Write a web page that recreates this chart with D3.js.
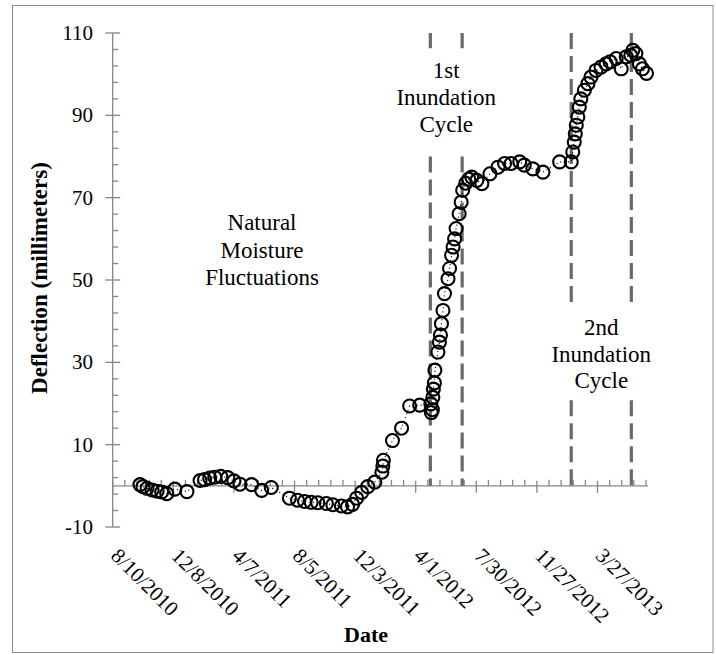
<!DOCTYPE html>
<html><head><meta charset="utf-8">
<script src="https://cdn.jsdelivr.net/npm/d3@7"></script>
<style>
body{margin:0;background:#fff}
svg{display:block}
text{font-family:"Liberation Serif","Times New Roman",serif;fill:#000}
</style>
</head><body>
<svg id="chart" width="716" height="655"></svg>
<script>
// ---- data ----
const dates = [
 "2010-10-03","2010-10-09","2010-10-17","2010-10-27","2010-11-06","2010-11-15","2010-11-25","2010-12-11","2011-01-04",
 "2011-01-30","2011-02-08","2011-02-18","2011-02-28","2011-03-12","2011-03-26","2011-04-07","2011-04-19","2011-05-12","2011-06-01","2011-06-20",
 "2011-07-26","2011-08-11","2011-08-25","2011-09-07","2011-09-20","2011-10-07","2011-10-20","2011-11-06","2011-11-18","2011-11-28",
 "2011-12-06","2011-12-16","2011-12-28","2012-01-11","2012-01-25","2012-01-27","2012-01-28","2012-02-15","2012-03-04","2012-03-20",
 "2012-04-09","2012-05-01","2012-05-02","2012-05-04","2012-05-05","2012-05-06","2012-05-08","2012-05-09","2012-05-15","2012-05-18",
 "2012-05-20","2012-05-22","2012-05-25","2012-05-28","2012-06-04","2012-06-07","2012-06-11","2012-06-14","2012-06-17","2012-06-20",
 "2012-06-26","2012-06-30","2012-07-03","2012-07-09","2012-07-15","2012-07-21","2012-07-31","2012-08-10","2012-08-26","2012-09-11",
 "2012-09-24","2012-10-07","2012-10-24","2012-11-02","2012-11-19","2012-12-09","2013-01-11","2013-02-03","2013-02-06","2013-02-09",
 "2013-02-11","2013-02-13","2013-02-16","2013-02-19","2013-02-22","2013-03-01","2013-03-08","2013-03-14","2013-03-24","2013-04-03",
 "2013-04-13","2013-04-21","2013-05-03","2013-05-13","2013-05-23","2013-06-01","2013-06-05","2013-06-11","2013-06-18","2013-06-24",
 "2013-07-02"
];
const deflection = [
 0.3,-0.2,-0.6,-1.0,-1.3,-1.5,-1.9,-0.8,-1.4,
 1.3,1.5,1.9,2.1,2.3,2.0,1.2,0.4,0.3,-1.1,-0.4,
 -3.0,-3.5,-3.8,-4.0,-4.1,-4.3,-4.6,-4.9,-5.1,-4.5,
 -3.0,-1.6,-0.2,0.9,3.3,4.8,6.2,11.0,14.0,19.4,
 19.6,19.9,17.8,18.5,21.5,23.5,25.0,28.1,32.5,34.9,
 36.6,39.4,42.6,46.7,50.3,52.8,56.0,58.0,60.0,62.5,
 66.1,68.9,71.8,73.5,74.5,75.0,74.2,73.4,75.8,77.4,
 78.3,78.3,78.7,77.9,77.0,76.2,78.7,78.7,81.1,83.5,
 85.5,87.6,89.6,92.0,94.0,96.1,97.7,99.3,100.9,101.7,
 102.5,103.0,103.8,101.3,104.2,104.6,105.8,105.0,102.5,101.3,
 100.2
];
const xTickLabels = ["8/10/2010","12/8/2010","4/7/2011","8/5/2011","12/3/2011","4/1/2012","7/30/2012","11/27/2012","3/27/2013"];
const yTickValues = [-10,10,30,50,70,90,110];
const xDomain = ["2010-08-10","2013-07-05"];
const yDomain = [-10,110];
const cycleDates = ["2012-04-30","2012-07-02","2013-02-03","2013-06-02"];
const cycleSegments = [
 [[110,106.3],[80,0]],
 [[110,106.3],[80,0]],
 [[110,44.5],[20.8,0]],
 [[110,44.5],[20.8,0]]
];
const naturalText = ["Natural","Moisture","Fluctuations"];
const firstText = ["1st","Inundation","Cycle"];
const secondText = ["2nd","Inundation","Cycle"];
const xTitle = "Date";
const yTitle = "Deflection (millimeters)";

// ---- drawing ----
const svg = d3.select("#chart");
const parse = d3.utcParse("%Y-%m-%d");
const parseTick = d3.utcParse("%m/%d/%Y");
const L = 112.7, R = 648, T = 33, B = 527;

const x = d3.scaleUtc().domain(xDomain.map(parse)).range([L, R]);
const y = d3.scaleLinear().domain(yDomain).range([B, T]);

const pts = dates.map((d,i)=>({d:parse(d), v:deflection[i]}));

// chart border
svg.append("rect").attr("x",12.5).attr("y",5.5).attr("width",700.5).attr("height",647)
  .attr("fill","none").attr("stroke","#8c8c8c").attr("stroke-width",1);

const axisColor = "#868686";
const y0 = y(0);

// y axis
svg.append("line").attr("x1",L).attr("x2",L).attr("y1",T).attr("y2",B)
  .attr("stroke",axisColor).attr("stroke-width",1.3);
const yMinor = d3.range(yDomain[0], yDomain[1]+0.001, 4).filter(v=>!yTickValues.includes(v));
svg.append("g").selectAll("line").data(yMinor).join("line")
  .attr("x1",L).attr("x2",L+5.5).attr("y1",d=>y(d)).attr("y2",d=>y(d))
  .attr("stroke",axisColor).attr("stroke-width",1.3);
svg.append("g").selectAll("line").data(yTickValues).join("line")
  .attr("x1",L-7.5).attr("x2",L+7.5).attr("y1",d=>y(d)).attr("y2",d=>y(d))
  .attr("stroke",axisColor).attr("stroke-width",1.3);
svg.append("g").selectAll("text").data(yTickValues).join("text")
  .attr("x",93).attr("y",d=>y(d)).attr("dy","0.34em")
  .attr("text-anchor","end").attr("font-size",21).text(d=>String(d));

// x axis (crosses at 0)
svg.append("line").attr("x1",L).attr("x2",R).attr("y1",y0).attr("y2",y0)
  .attr("stroke",axisColor).attr("stroke-width",1.3);
const start = parse(xDomain[0]), end = parse(xDomain[1]);
const minorDates = [];
for (let k=0;;k+=24){ const dd = d3.utcDay.offset(start,k); if (dd> end) break; if (k%120!==0) minorDates.push(dd); }
svg.append("g").selectAll("line").data(minorDates).join("line")
  .attr("x1",d=>x(d)).attr("x2",d=>x(d)).attr("y1",y0).attr("y2",y0-6)
  .attr("stroke",axisColor).attr("stroke-width",1.3);
const majorDates = xTickLabels.map(parseTick);
svg.append("g").selectAll("line").data(majorDates).join("line")
  .attr("x1",d=>x(d)).attr("x2",d=>x(d)).attr("y1",y0-5).attr("y2",y0+7)
  .attr("stroke",axisColor).attr("stroke-width",1.3);
svg.append("g").selectAll("text").data(xTickLabels).join("text")
  .attr("transform",d=>`translate(${x(parseTick(d))-3},${B+30}) rotate(45)`)
  .attr("text-anchor","start").attr("font-size",21).text(d=>d);

// cycle boundary dashed lines
cycleDates.forEach((cd,i)=>{
  cycleSegments[i].forEach(seg=>{
    svg.append("line").attr("x1",x(parse(cd))).attr("x2",x(parse(cd)))
      .attr("y1",y(seg[0])).attr("y2",y(seg[1]))
      .attr("stroke","#6a6a6a").attr("stroke-width",3.2).attr("stroke-dasharray","16,7");
  });
});

// dotted connecting line
svg.append("path").datum(pts)
  .attr("d", d3.line().x(p=>x(p.d)).y(p=>y(p.v)))
  .attr("fill","none").attr("stroke","#000").attr("stroke-width",1.2).attr("stroke-dasharray","1,3");

// markers
svg.append("g").selectAll("circle").data(pts).join("circle")
  .attr("cx",p=>x(p.d)).attr("cy",p=>y(p.v)).attr("r",6.5)
  .attr("fill","none").attr("stroke","#000").attr("stroke-width",2.1);

// annotations
function block(lines, cx, baseY, gap){
  svg.append("g").selectAll("text").data(lines).join("text")
    .attr("x",cx).attr("y",(d,i)=>baseY+i*gap)
    .attr("text-anchor","middle").attr("font-size",23).text(d=>d);
}
block(naturalText, 262, 230, 27.5);
block(firstText, (x(parse(cycleDates[0]))+x(parse(cycleDates[1])))/2, 78, 27);
block(secondText, (x(parse(cycleDates[2]))+x(parse(cycleDates[3])))/2, 335, 26.5);

// axis titles
svg.append("text").attr("x",366).attr("y",642).attr("text-anchor","middle")
  .attr("font-size",22).attr("font-weight","bold").text(xTitle);
svg.append("text").attr("transform",`translate(47,${(T+B)/2 - 2}) rotate(-90)`)
  .attr("text-anchor","middle").attr("font-size",23).attr("font-weight","bold").text(yTitle);
</script>
</body></html>
